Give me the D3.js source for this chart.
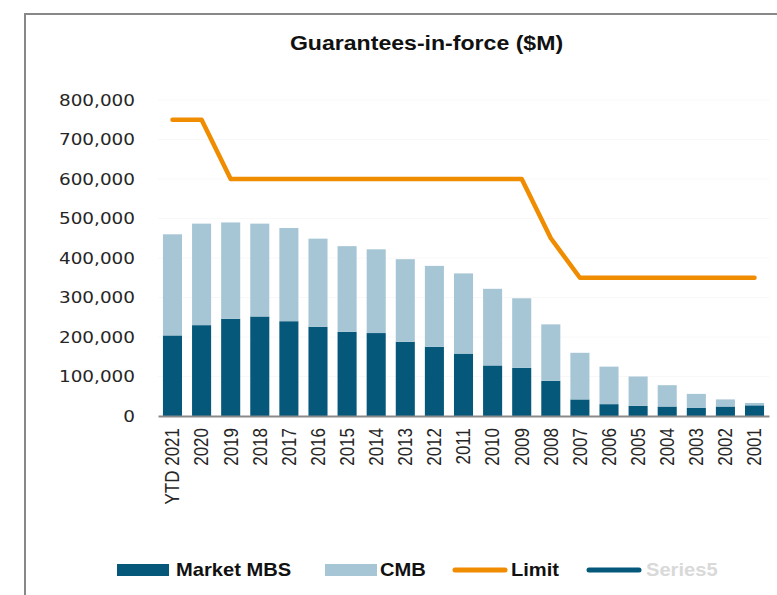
<html>
  <head>
    <title>Guarantees-in-force</title>
    <meta charset="utf-8" />
    <script src="https://cdnjs.cloudflare.com/ajax/libs/d3/7.6.1/d3.min.js"></script>
    <style>
      body {
        margin: 0;
        background: #fff;
      }
      svg {
        display: block;
      }
    </style>
  </head>
  <body>
    <div id="viz">
      <svg width="777" height="595"></svg>
    </div>
  </body>

  <script>
    const years = ["YTD 2021", "2020", "2019", "2018", "2017", "2016", "2015",
      "2014", "2013", "2012", "2011", "2010", "2009", "2008", "2007", "2006",
      "2005", "2004", "2003", "2002", "2001"];
    const marketMBS = [204000, 230000, 246000, 252000, 240000, 226000, 213000,
      210000, 188000, 175000, 158000, 128000, 122000, 89000, 42000, 30000,
      26000, 24000, 21000, 24000, 27000];
    const cmb = [256000, 257000, 244000, 235000, 236000, 223000, 217000,
      212000, 209000, 205000, 203000, 194000, 176000, 143000, 118000, 95000,
      74000, 54000, 35000, 18000, 6000];
    const limit = [750000, 750000, 600000, 600000, 600000, 600000, 600000,
      600000, 600000, 600000, 600000, 600000, 600000, 450000, 350000, 350000,
      350000, 350000, 350000, 350000, 350000];
    const yTicks = [0, 100000, 200000, 300000, 400000, 500000, 600000, 700000, 800000];

    const dark = "#05587a";
    const light = "#a6c6d5";
    const orange = "#f08c00";

    const svg = d3.select("svg");

    // frame of the chart area (runs off the right and bottom)
    svg.append("rect")
      .attr("x", 25).attr("y", 14)
      .attr("width", 800).attr("height", 700)
      .attr("fill", "none")
      .attr("stroke", "#888")
      .attr("stroke-width", 2);

    svg.append("text")
      .attr("transform", "translate(426.5,50) scale(1.1,1)")
      .attr("text-anchor", "middle")
      .style("font-family", "Liberation Sans, Arial, sans-serif")
      .style("font-weight", "bold")
      .style("font-size", "21px")
      .attr("fill", "#111")
      .text("Guarantees-in-force ($M)");

    const xScale = d3.scaleBand().domain(years).range([158, 769])
      .paddingInner(0.345).paddingOuter(0.17);
    const yScale = d3.scaleLinear().domain([0, 800000]).range([416, 100]);

    // gridlines, nearly white
    svg.append("g")
      .selectAll("line")
      .data(yTicks.slice(1))
      .join("line")
      .attr("x1", 158).attr("x2", 769)
      .attr("y1", (d) => yScale(d)).attr("y2", (d) => yScale(d))
      .attr("stroke", "#f8f8f8")
      .attr("stroke-width", 1);

    const table = years.map((y, i) => ({ year: y, mbs: marketMBS[i], cmb: cmb[i] }));
    const stacked = d3.stack().keys(["mbs", "cmb"])(table);
    const colors = { mbs: dark, cmb: light };

    svg.append("g")
      .selectAll("g")
      .data(stacked)
      .join("g")
      .attr("fill", (s) => colors[s.key])
      .selectAll("rect")
      .data((s) => s)
      .join("rect")
      .attr("x", (d) => xScale(d.data.year))
      .attr("width", xScale.bandwidth())
      .attr("y", (d) => yScale(d[1]))
      .attr("height", (d) => yScale(d[0]) - yScale(d[1]));

    const limitLine = d3.line()
      .x((d, i) => xScale(years[i]) + xScale.bandwidth() / 2)
      .y((d) => yScale(d));
    svg.append("path")
      .attr("d", limitLine(limit))
      .attr("fill", "none")
      .attr("stroke", orange)
      .attr("stroke-width", 4.5)
      .attr("stroke-linejoin", "round")
      .attr("stroke-linecap", "round");

    // y axis labels
    const yAxis = d3.axisLeft(yScale).tickValues(yTicks).tickSize(0).tickPadding(0)
      .tickFormat(d3.format(","));
    const yG = svg.append("g").attr("transform", "translate(135,0)").call(yAxis);
    yG.select(".domain").remove();
    yG.selectAll("text")
      .attr("transform", "scale(1.15,1)")
      .style("font-family", "DejaVu Sans, sans-serif")
      .style("font-size", "16px")
      .attr("fill", "#262626");

    // x axis
    const xAxis = d3.axisBottom(xScale).tickSize(0).tickSizeOuter(0);
    const xG = svg.append("g").attr("transform", "translate(0,416)").call(xAxis);
    xG.select(".domain").attr("stroke", "#8a8a8a").attr("stroke-width", 2);
    xG.selectAll("text")
      .attr("x", 0).attr("y", 0).attr("dy", "0.35em")
      .attr("text-anchor", "end")
      .attr("transform", "translate(0,12) rotate(-90) scale(1,1.15)")
      .style("font-family", "Liberation Sans, Arial, sans-serif")
      .style("font-size", "17px")
      .attr("fill", "#262626");

    // legend
    const legend = [
      { name: "Market MBS", type: "rect", color: dark, x: 117, tx: 176, text: "#111" },
      { name: "CMB", type: "rect", color: light, x: 325, tx: 380, text: "#111" },
      { name: "Limit", type: "line", color: orange, x: 453, tx: 511, text: "#111" },
      { name: "Series5", type: "line", color: dark, x: 587, tx: 646, text: "#d9d9d9" },
    ];
    const lg = svg.append("g");
    legend.forEach((d) => {
      if (d.type === "rect") {
        lg.append("rect")
          .attr("x", d.x).attr("y", 564)
          .attr("width", 52).attr("height", 12)
          .attr("fill", d.color);
      } else {
        lg.append("line")
          .attr("x1", d.x + 2).attr("x2", d.x + 52)
          .attr("y1", 570).attr("y2", 570)
          .attr("stroke", d.color)
          .attr("stroke-width", 5)
          .attr("stroke-linecap", "round");
      }
      lg.append("text")
        .attr("transform", `translate(${d.tx},576) scale(1.15,1)`)
        .style("font-family", "Liberation Sans, Arial, sans-serif")
        .style("font-weight", "bold")
        .style("font-size", "17.5px")
        .attr("fill", d.text)
        .text(d.name);
    });
  </script>
</html>
